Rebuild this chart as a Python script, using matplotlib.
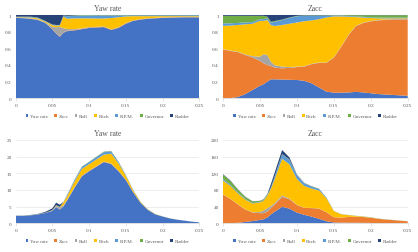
import numpy as np
import matplotlib
matplotlib.use("Agg")
import matplotlib.pyplot as plt
from matplotlib.patches import Patch

# ---------------- DATA ----------------
# frequency axis (shared by all four panels)
x = [0, 0.01, 0.02, 0.03, 0.04, 0.05, 0.055, 0.06, 0.065, 0.07, 0.08, 0.09, 0.10,
     0.11, 0.12, 0.13, 0.14, 0.15, 0.16, 0.17, 0.18, 0.19, 0.20, 0.21, 0.22, 0.23,
     0.24, 0.25]

labels = ["Yaw rate", "Zacc", "Roll", "Pitch", "R.P.M.", "Governor", "Rudder"]

# --- Yaw rate: share of each input (%) and total level
yr_yaw = [96.5, 96.2, 95.5, 94.0, 90.5, 83.0, 78.0, 74.0, 79.0, 81.0, 81.5, 83.0, 84.5,
          85.0, 85.5, 82.0, 84.5, 89.5, 93.0, 94.5, 95.5, 96.0, 96.5, 96.7, 96.8, 97.0,
          97.0, 97.0]
yr_zacc = [0, 0, 0, 0, 0, 0.5, 0.5, 0.5, 0.5, 0.5, 0.5, 0.5, 0.5, 0.5, 0.5, 0.5, 0.5,
           0.5, 0.3, 0.3, 0.3, 0.3, 0.3, 0.3, 0.3, 0.3, 0.3, 0.3]
yr_roll = [0.3, 0.3, 0.5, 0.8, 0.5, 2.5, 7.0, 11.5, 5.0, 2.0, 1.0, 0.5, 0.5, 0.3, 0.3,
           0.3, 0.3, 0.3, 0.3, 0.3, 0.3, 0.3, 0.3, 0.3, 0.3, 0.3, 0.3, 0.3]
yr_pitch = [0.5, 0.7, 1.0, 1.2, 1.0, 2.0, 2.0, 1.5, 14.0, 12.5, 13.0, 12.0, 10.5, 10.0,
            9.5, 13.5, 12.0, 8.0, 5.0, 3.5, 2.5, 2.0, 1.5, 1.2, 1.0, 0.8, 0.8, 0.8]
yr_rpm = [0.5, 0.6, 0.7, 0.7, 0.5, 0.5, 0.5, 0.5, 1.0, 3.0, 3.0, 3.5, 3.5, 3.5, 3.5, 3.0,
          2.0, 1.2, 1.0, 1.0, 1.0, 1.0, 1.0, 1.0, 1.0, 1.0, 1.0, 1.0]
yr_gov = [0.2, 0.2, 0.3, 0.3, 0.3, 0.3, 0.3, 0.3, 0.3, 0.5, 0.5, 0.5, 0.5, 0.5, 0.5, 0.5,
          0.5, 0.3, 0.2, 0.2, 0.2, 0.2, 0.2, 0.2, 0.2, 0.2, 0.2, 0.2]
yr_rud = [2.0, 2.0, 2.0, 3.0, 7.0, 11.5, 12.0, 12.0, 0.5, 1.0, 0.5, 0, 0, 0.2, 0.2, 0.2,
          0.2, 0.2, 0.2, 0.2, 0.2, 0.2, 0.2, 0.2, 0.2, 0.2, 0.2, 0.2]
yr_total = [2.3, 2.3, 2.5, 2.8, 3.4, 4.5, 6.2, 5.6, 6.4, 8.5, 13.0, 17.0, 18.5, 20.0,
            21.5, 21.7, 18.5, 14.5, 10.0, 6.5, 4.2, 2.8, 2.1, 1.5, 1.1, 0.8, 0.5, 0.3]

# --- Zacc: share of each input (%) and total level
za_yaw = [0, 0.3, 1.5, 5.0, 10.0, 15.0, 17.0, 20.0, 22.8, 22.8, 22.5, 22.2, 22.0, 21.0,
          18.0, 13.0, 8.0, 6.8, 6.8, 7.0, 7.5, 7.0, 6.0, 5.0, 4.5, 4.0, 3.5, 3.0]
za_zacc = [58.5, 56.5, 54.0, 47.0, 39.0, 30.0, 25.0, 20.0, 16.0, 14.0, 13.5, 14.3, 15.5,
           17.0, 23.0, 29.5, 34.5, 42.0, 55.0, 69.0, 77.0, 83.0, 85.0, 87.0, 88.5, 90.0,
           91.0, 91.5]
za_roll = [0.5, 0.5, 0.5, 0.8, 1.5, 5.0, 11.0, 12.0, 5.0, 3.0, 2.0, 1.0, 0.5, 0.5, 0.5,
           0.5, 0.5, 0.5, 0.5, 0.5, 0.5, 0.5, 0.5, 0.5, 0.5, 0.5, 0.5, 0.5]
za_pitch = [28.0, 30.0, 32.0, 36.0, 39.0, 43.0, 40.0, 42.0, 44.0, 47.0, 50.0, 52.0, 53.0,
            54.0, 52.0, 52.0, 54.0, 49.0, 36.0, 21.5, 10.0, 6.0, 3.5, 2.0, 1.2, 0.8, 0.8,
            0.8]
za_rpm = [3.0, 2.7, 2.5, 2.2, 2.0, 2.0, 2.0, 2.0, 3.0, 5.0, 6.0, 7.0, 7.5, 6.5, 5.5, 4.0,
          2.0, 1.0, 1.0, 0.8, 0.8, 0.8, 0.8, 0.8, 0.8, 0.8, 0.8, 0.8]
za_gov = [9.0, 9.0, 8.5, 8.0, 7.5, 4.0, 4.0, 2.0, 1.0, 1.0, 0.5, 0.5, 0.5, 0.5, 0.5, 0.5,
          0.5, 0.5, 0.5, 1.0, 1.5, 2.0, 2.5, 3.0, 3.0, 3.0, 3.0, 3.0]
za_rud = [1.0, 1.0, 1.0, 1.0, 1.0, 1.0, 1.0, 2.0, 8.2, 7.2, 5.5, 3.0, 1.0, 0.5, 0.5, 0.5,
          0.5, 0.2, 0.2, 0.2, 0.2, 0.2, 0.2, 0.2, 0.2, 0.2, 0.2, 0.2]
za_total = [118, 103, 82, 64, 53, 54, 58, 70, 95, 122, 176, 158, 117, 97, 89, 83, 62,
            30, 22, 20, 18, 16.5, 14.5, 11.5, 9.5, 8, 6.5, 5]
# ---------------------------------------

colors = ["#4472C4", "#ED7D31", "#A5A5A5", "#FFC000", "#5B9BD5", "#70AD47", "#264478"]
txt = "#595959"
plt.rcParams["font.family"] = ["Liberation Serif", "DejaVu Serif"]

fig = plt.figure(figsize=(4.18, 2.53), dpi=100)

W, H = 418.0, 253.0
def make_ax(left, top, right, bottom):
    return fig.add_axes([left / W, 1 - bottom / H, (right - left) / W, (bottom - top) / H])

panels = [
    ("Yaw rate", [yr_yaw, yr_zacc, yr_roll, yr_pitch, yr_rpm, yr_gov, yr_rud], yr_total),
    ("Zacc", [za_yaw, za_zacc, za_roll, za_pitch, za_rpm, za_gov, za_rud], za_total),
]

boxes_top = [(15.7, 16, 199.3, 99.3), (223, 16, 407.7, 99.3)]
boxes_bot = [(15.7, 141, 199.3, 224.3), (223, 141, 407.7, 224.3)]
bot_ylim = [(25, [0, 5, 10, 15, 20, 25]), (200, [0, 40, 80, 120, 160, 200])]

def style(ax, title, yticks, ylab, grid):
    ax.set_xlim(0, 0.25)
    ax.set_xticks([0, 0.05, 0.1, 0.15, 0.2, 0.25])
    ax.set_xticklabels(["0", "0.05", "0.1", "0.15", "0.2", "0.25"])
    ax.set_yticks(yticks)
    ax.set_yticklabels(ylab)
    for s in ["top", "right", "left"]:
        ax.spines[s].set_visible(False)
    ax.spines["bottom"].set_color("#D9D9D9")
    ax.spines["bottom"].set_linewidth(0.6)
    ax.tick_params(axis="x", length=2, width=0.5, color="#D9D9D9", labelsize=3.8,
                   labelcolor=txt, pad=1.5)
    ax.tick_params(axis="y", length=0, labelsize=3.8, labelcolor=txt, pad=3)
    if grid:
        ax.yaxis.grid(True, color="#E6E6E6", linewidth=0.5)
        ax.set_axisbelow(True)
    ax.set_title(title, fontsize=5.6, color=txt, pad=3.5)
    handles = [Patch(facecolor=c, label=l) for c, l in zip(colors, labels)]
    ax.legend(handles=handles, loc="upper center", bbox_to_anchor=(0.5, -0.13), ncol=7,
              frameon=False, fontsize=3.6, handlelength=0.55, handleheight=0.55,
              handletextpad=0.3, columnspacing=1.3, labelcolor=txt)

for i, (title, series, total) in enumerate(panels):
    s = np.array(series, dtype=float)
    frac = s / s.sum(axis=0)

    # 100 % stacked area
    ax = make_ax(*boxes_top[i])
    ax.stackplot(x, frac, colors=colors, linewidth=0)
    ax.set_ylim(0, 1)
    style(ax, title, [0, 0.2, 0.4, 0.6, 0.8, 1], ["0", "0.2", "0.4", "0.6", "0.8", "1"], False)

    # absolute stacked area
    ax = make_ax(*boxes_bot[i])
    ax.stackplot(x, frac * np.array(total), colors=colors, linewidth=0)
    top, ticks = bot_ylim[i]
    ax.set_ylim(0, top)
    style(ax, title, ticks, [str(t) for t in ticks], True)

fig.savefig("out.png", dpi=100)
